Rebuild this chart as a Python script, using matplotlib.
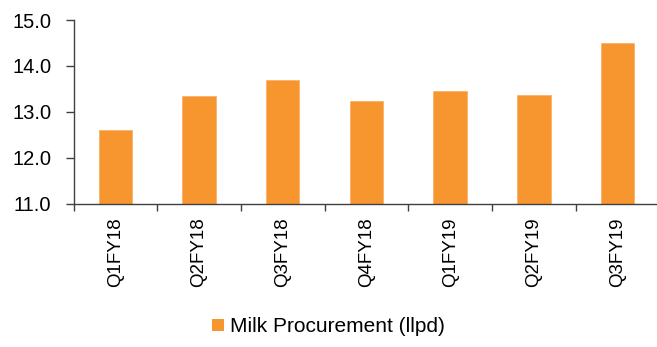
import numpy as np
import matplotlib.pyplot as plt
from matplotlib.patches import Patch

quarters = ['Q1FY18', 'Q2FY18', 'Q3FY18', 'Q4FY18', 'Q1FY19', 'Q2FY19', 'Q3FY19']
milk = [12.6, 13.35, 13.69, 13.23, 13.45, 13.36, 14.49]
series_name = 'Milk Procurement (llpd)'
bar_color = '#F7962F'

plt.rcParams['font.family'] = ['Liberation Sans', 'DejaVu Sans']

fig = plt.figure(figsize=(6.57, 3.47), dpi=100)
ax = fig.add_axes([73.5 / 657, 1 - 203.5 / 347, (659.4 - 73.5) / 657, (203.5 - 20) / 347])

x = np.arange(len(quarters))
ax.bar(x, [v - 11 for v in milk], bottom=11, width=0.4, color=bar_color,
       edgecolor='#FBB36A', linewidth=0.6)

ax.set_xlim(-0.5, len(quarters) - 0.5)
ax.set_ylim(11, 15)
ax.set_yticks([11, 12, 13, 14, 15])
ax.set_yticklabels([f'{v:.1f}' for v in [11, 12, 13, 14, 15]], fontsize=14.5)

ax.set_xticks(x)
ax.set_xticklabels(quarters, rotation=90, fontsize=13.5)
ax.set_xticks(np.arange(len(quarters) + 1) - 0.5, minor=True)
ax.tick_params(axis='x', which='major', length=0, pad=10)
ax.tick_params(axis='x', which='minor', length=5, width=1, color='#404040')
ax.tick_params(axis='y', length=6, width=1, color='#404040', pad=10)

for s in ['top', 'right']:
    ax.spines[s].set_visible(False)
for s in ['left', 'bottom']:
    ax.spines[s].set_color('#404040')
    ax.spines[s].set_linewidth(1)

handle = Patch(facecolor=bar_color, edgecolor='none')
fig.legend([handle], [series_name], loc='center', bbox_to_anchor=(0.5, 1 - 327 / 347),
           frameon=False, fontsize=15, handlelength=0.55, handleheight=0.55,
           handletextpad=0.3)

fig.savefig('out.png', dpi=100)
